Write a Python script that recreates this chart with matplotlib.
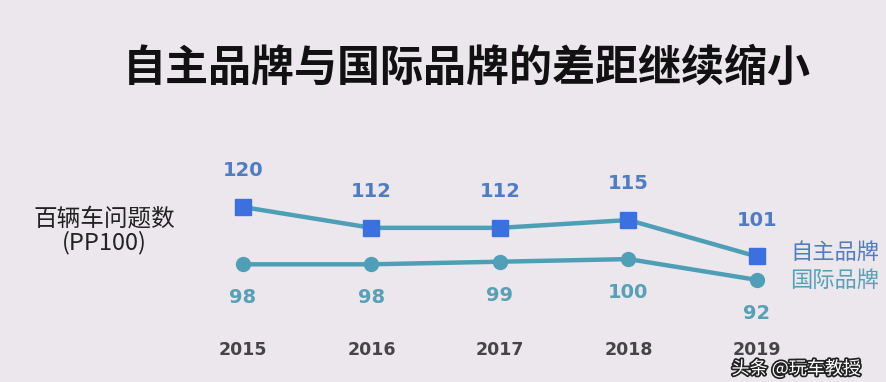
import matplotlib.pyplot as plt
import matplotlib.patheffects as pe

plt.rcParams['font.family'] = ['Noto Sans CJK SC', 'DejaVu Sans']

years = [2015, 2016, 2017, 2018, 2019]
domestic = [120, 112, 112, 115, 101]
international = [98, 98, 99, 100, 92]
title = '自主品牌与国际品牌的差距继续缩小'
ylabel = '百辆车问题数\n(PP100)'
series_names = ['自主品牌', '国际品牌']

bg = '#ebe7ed'
line_c = '#4e9fb6'
square_c = '#3b70df'
circle_c = '#4f9fb7'
top_txt = '#4f7cc2'
bot_txt = '#58a0b6'

fig = plt.figure(figsize=(8.86, 3.82), dpi=100)
fig.patch.set_facecolor(bg)

# axes spans full width; y from pixel 150 to 330
ax = fig.add_axes([0, 52 / 382, 1, 180 / 382])
ax.set_facecolor(bg)
ax.set_xlim(2013.109, 2020.004)
ax.set_ylim(72.77, 141.9)
for s in ax.spines.values():
    s.set_visible(False)
ax.set_yticks([])
ax.set_xticks(years)
ax.set_xticklabels([str(y) for y in years], fontsize=12.5, color='#454545', fontweight='bold',
                   family=['DejaVu Sans'])
ax.tick_params(axis='x', length=0, pad=8)

ax.plot(years, domestic, color=line_c, linewidth=3.2, marker='s', markersize=11,
        markerfacecolor=square_c, markeredgecolor=square_c, zorder=3)
ax.plot(years, international, color=line_c, linewidth=3.2, marker='o', markersize=10,
        markerfacecolor=circle_c, markeredgecolor=circle_c, zorder=3)

for x, v in zip(years, domestic):
    ax.annotate(str(v), (x, v), xytext=(0, 26), textcoords='offset points', ha='center',
                va='center', fontsize=14, fontweight='bold', color=top_txt, family=['DejaVu Sans'])
for x, v in zip(years, international):
    ax.annotate(str(v), (x, v), xytext=(0, -24), textcoords='offset points', ha='center',
                va='center', fontsize=14, fontweight='bold', color=bot_txt, family=['DejaVu Sans'])

# legend-like labels next to last points
ax.annotate(series_names[0], (years[-1], domestic[-1]), xytext=(24, 3), textcoords='offset points',
            ha='left', va='center', fontsize=16, color=top_txt)
ax.annotate(series_names[1], (years[-1], international[-1]), xytext=(24, 0), textcoords='offset points',
            ha='left', va='center', fontsize=16, color=bot_txt)

fig.text(467 / 886, 1 - 68 / 382, title, ha='center', va='center', fontsize=31,
         fontweight='heavy', color='#111111')
fig.text(104 / 886, 1 - 231 / 382, ylabel, ha='center', va='center', fontsize=17,
         color='#222222', linespacing=1.05)

wm = fig.text(796 / 886, 1 - 369 / 382, '头条 @玩车教授', ha='center', va='center',
              fontsize=13, color='white')
wm.set_path_effects([pe.withStroke(linewidth=2.5, foreground='#222222')])

fig.savefig('out.png', dpi=100, facecolor=bg)
